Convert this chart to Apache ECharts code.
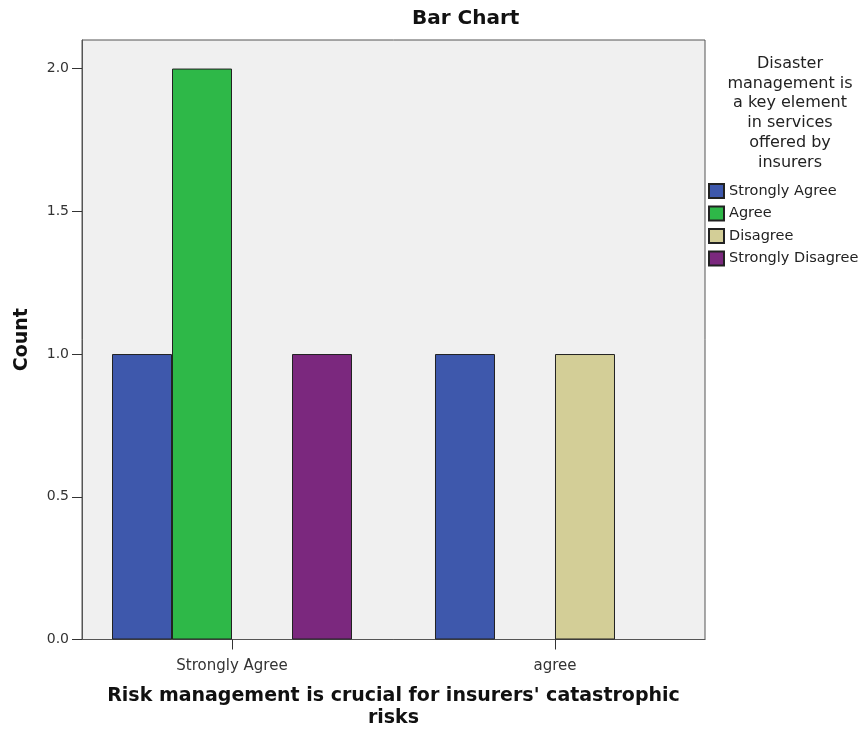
<!DOCTYPE html>
<html>
<head>
<meta charset="utf-8">
<script src="https://cdn.jsdelivr.net/npm/echarts@6/dist/echarts.min.js"></script>
<style>
html,body{margin:0;padding:0;background:#fff;}
#chart{width:863px;height:729px;}
</style>
</head>
<body>
<div id="chart"></div>
<script>
var categories = ['Strongly Agree', 'agree'];
var seriesNames = ['Strongly Agree', 'Agree', 'Disagree', 'Strongly Disagree'];
var stronglyAgree = [1, 1];
var agree = [2, 0];
var disagree = [0, 1];
var stronglyDisagree = [1, 0];
var yTicks = [0, 0.5, 1.0, 1.5, 2.0];
var colors = ['#3E58AC', '#2EB848', '#D3CE97', '#7B287E'];

var allValues = [stronglyAgree, agree, disagree, stronglyDisagree];
function toData(arr) {
  var out = [];
  arr.forEach(function (v, i) { if (v) out.push([i, v]); });
  return out;
}

var FONT = 'DejaVu Sans, sans-serif';
var chart = echarts.init(document.getElementById('chart'));
chart.setOption({
  animation: false,
  backgroundColor: '#ffffff',
  color: colors,
  title: [
    { text: 'Bar Chart', left: 412, top: 9, padding: 0,
      textStyle: { fontFamily: FONT, fontSize: 20, fontWeight: 'bold', color: '#111' } },
    { text: 'Disaster\nmanagement is\na key element\nin services\noffered by\ninsurers',
      left: 785, top: 49, textAlign: 'center',
      textStyle: { fontFamily: FONT, fontSize: 16, fontWeight: 'normal', color: '#222', lineHeight: 19.7 } }
  ],
  legend: {
    orient: 'vertical', left: 708, top: 183, padding: 0,
    itemWidth: 15, itemHeight: 14, itemGap: 6.5,
    icon: 'rect',
    data: seriesNames,
    textStyle: { fontFamily: FONT, fontSize: 14.5, color: '#222', lineHeight: 14 }
  },
  grid: {
    left: 82, right: 158, top: 40, bottom: 89.5,
    outerBoundsMode: 'none', containLabel: false,
    show: true, backgroundColor: '#F0F0F0', borderColor: '#555', borderWidth: 1
  },
  xAxis: {
    type: 'value', min: -0.4644, max: 1.4644,
    name: "Risk management is crucial for insurers' catastrophic\nrisks",
    nameLocation: 'middle', nameGap: 45.5,
    nameTextStyle: { fontFamily: FONT, fontSize: 19, fontWeight: 'bold', color: '#111', lineHeight: 22, verticalAlign: 'top' },
    splitLine: { show: false },
    axisLine: { show: true, onZero: false, lineStyle: { color: '#555' } },
    axisTick: { show: true, length: 10, customValues: [0, 1], lineStyle: { color: '#333' } },
    axisLabel: {
      customValues: [0, 1], margin: 19,
      fontFamily: FONT, fontSize: 15, color: '#333',
      formatter: function (v) { return categories[Math.round(v)]; }
    }
  },
  yAxis: {
    type: 'value', min: 0, max: 2.1, interval: 0.5,
    name: 'Count', nameLocation: 'middle', nameGap: 50, nameRotate: 90,
    nameTextStyle: { fontFamily: FONT, fontSize: 19, fontWeight: 'bold', color: '#111' },
    splitLine: { show: false },
    axisLine: { show: true, onZero: false, lineStyle: { color: '#555' } },
    axisTick: { show: true, length: 10, customValues: yTicks, lineStyle: { color: '#333' } },
    axisLabel: {
      margin: 13, fontFamily: FONT, fontSize: 14, color: '#333',
      customValues: yTicks,
      formatter: function (v) { return v.toFixed(1); }
    }
  },
  series: seriesNames.map(function (name, k) {
    return {
      name: name, type: 'bar', barWidth: 60, barGap: '0%',
      itemStyle: { color: colors[k], borderColor: '#222', borderWidth: 1 },
      data: toData(allValues[k])
    };
  })
});
</script>
</body>
</html>
